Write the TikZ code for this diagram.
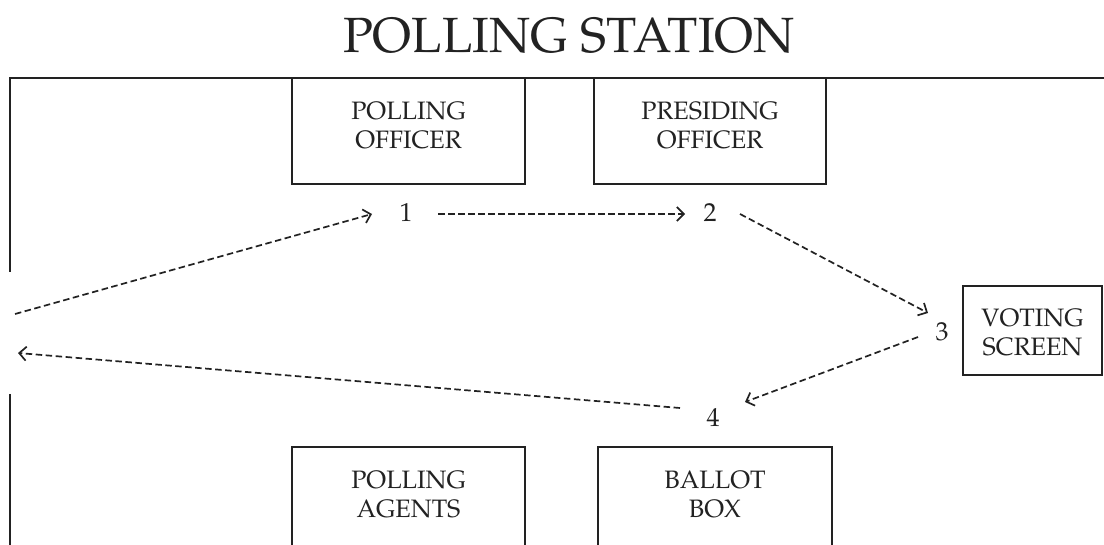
\documentclass[tikz,border=0pt]{standalone}
\usepackage[T1]{fontenc}
\renewcommand{\rmdefault}{ppl}
\usetikzlibrary{arrows.meta,calc}
\definecolor{ink}{HTML}{222222}
\tikzset{
  wall/.style={draw=ink, line width=2pt},
  room/.style={draw=ink, line width=1.8pt},
  boxtext/.style={align=center, text=ink, font=\fontsize{25.2}{29}\selectfont},
  num/.style={text=ink, font=\fontsize{26}{30}\selectfont, inner sep=0pt},
  flow/.style={draw=ink, line width=1.7pt, dash pattern=on 6.5pt off 3.5pt,
    -{Straight Barb[length=7pt,width=14pt,line width=1.7pt]}}
}
\begin{document}
\begin{tikzpicture}[x=1pt,y=-1pt]
\useasboundingbox (0,0) rectangle (1104,545);
\clip (0,0) rectangle (1104,545);
% title
\node[text=ink, font=\fontsize{49.5}{56}\selectfont, inner sep=0pt] (title) at (569,36) {POLLING STATION};
% walls
\draw[wall] (10,272) -- (10,78) -- (1110,78);
\draw[wall] (10,394) -- (10,560);
% boxes
\draw[room] (292,78) rectangle (525,184);
\node[boxtext] (po) at (408.5,126) {POLLING\\OFFICER};
\draw[room] (594,78) rectangle (826,184);
\node[boxtext] (pr) at (710,126) {PRESIDING\\OFFICER};
\draw[room] (963,286) rectangle (1102,375);
\node[boxtext] (vs) at (1032.5,333) {VOTING\\SCREEN};
\draw[room] (292,560) -- (292,447) -- (525,447) -- (525,560);
\node[boxtext] (pa) at (408.5,495) {POLLING\\AGENTS};
\draw[room] (598,560) -- (598,447) -- (832,447) -- (832,560);
\node[boxtext] (bb) at (715,495) {BALLOT\\BOX};
% numbers
\node[num] (n1) at (406,213) {1};
\node[num] (n2) at (710,213) {2};
\node[num] (n3) at (942,332) {3};
\node[num] (n4) at (713,418) {4};
\coordinate (entry) at (15,314);
\coordinate (exit) at (18,353);
% flows
\draw[flow] (entry) -- ($(n1)+(-34,1)$);
\draw[flow] ($(n1)+(32,1)$) -- ($(n2)+(-25,1)$);
\draw[flow] ($(n2)+(30,1)$) -- ($(n3)+(-14,-19)$);
\draw[flow] ($(n3)+(-24,5)$) -- ($(n4)+(32,-16)$);
\draw[flow] ($(n4)+(-33,-10)$) -- (exit);
\end{tikzpicture}
\end{document}
